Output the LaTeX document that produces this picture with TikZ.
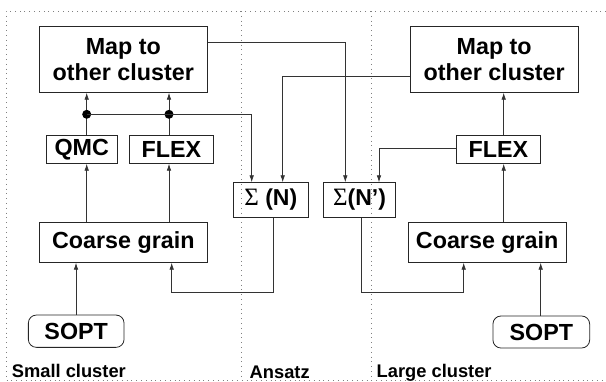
\documentclass[tikz,border=0pt]{standalone}
\usepackage{fontspec}
\setmainfont{Liberation Sans}
\newfontfamily\sigf{Liberation Serif}
\usetikzlibrary{arrows.meta}
\tikzset{
  box/.style={draw=black!85, line width=0.8pt, inner sep=0pt, align=center,
    font=\fontsize{23.3}{26.5}\selectfont\bfseries},
  sbox/.style={box, font=\fontsize{23}{23}\selectfont\bfseries},
  rbox/.style={box, rounded corners=8pt},
  conn/.style={draw=black!80, line width=0.8pt},
  arr/.style={conn, -{Latex[length=7pt,width=4.6pt]}},
  frame/.style={draw=black!50, line width=0.8pt, dash pattern=on 0.8pt off 4pt},
  lab/.style={anchor=base west, inner sep=0pt, font=\fontsize{18.3}{18}\selectfont\bfseries},
  jdot/.style={circle, fill=black, inner sep=0pt, minimum size=9pt}
}
\begin{document}
\begin{tikzpicture}[x=1pt,y=-1pt]
\useasboundingbox (0,0) rectangle (606,381);
% frame
\draw[frame] (606,11) -- (6,11) -- (6,380) -- (606,380);
\draw[frame] (241.7,11) -- (241.7,380);
\draw[frame] (371.3,11) -- (371.3,380);
% nodes
\node[box, minimum width=168pt, minimum height=65.6pt] (mapL) at (123.3,59.5) {Map to\\other cluster};
\node[box, minimum width=167.7pt, minimum height=65.6pt] (mapR) at (494.2,59.5) {Map to\\other cluster};
\node[box, minimum width=71.3pt, minimum height=27.6pt] (qmc) at (81.7,149.5) {QMC};
\node[box, minimum width=84pt, minimum height=27.6pt] (flexL) at (171.3,149.5) {FLEX};
\node[box, minimum width=84.4pt, minimum height=27.6pt] (flexR) at (498.5,149.5) {FLEX};
\node[sbox, minimum width=75pt, minimum height=34.6pt] (sigN) at (270.8,200) {{\sigf\fontsize{25}{25}\selectfont\mdseries Σ} (N)};
\node[sbox, minimum width=72.4pt, minimum height=34.6pt] (sigNp) at (359.5,200) {{\sigf\fontsize{25}{25}\selectfont\mdseries Σ}(N')};
\node[box, minimum width=168pt, minimum height=40pt] (cgL) at (123.3,242.3) {Coarse grain};
\node[box, minimum width=158.3pt, minimum height=40pt] (cgR) at (487.2,242.3) {Coarse grain};
\node[rbox, minimum width=95.7pt, minimum height=32.3pt] (soptL) at (76.2,331.2) {SOPT};
\node[rbox, minimum width=96.7pt, minimum height=32pt] (soptR) at (541.3,332) {SOPT};
% labels
\node[lab] (l1) at (11.7,377) {Small cluster};
\node[lab] (l2) at (249.5,378.3) {Ansatz};
\node[lab] (l3) at (376.5,377) {Large cluster};
% coordinates
\coordinate (d1) at (86.7,114.3);
\coordinate (d2) at (169,114.3);
\coordinate (t1) at (251.7,114.3);
\coordinate (t2) at (345.3,42.3);
\coordinate (t3) at (282.7,76.7);
\coordinate (t4) at (379,148);
\coordinate (b1) at (273.5,292.3);
\coordinate (b2) at (171.7,292.3);
\coordinate (b3) at (361.5,292.3);
\coordinate (b4) at (463.7,292.3);
\coordinate (xs) at (76,0);
\coordinate (xsr) at (540.7,0);
\coordinate (xr) at (503.7,0);
% left column
\draw[arr] (soptL.north -| xs) -- (cgL.south -| xs);
\draw[arr] (cgL.north -| d1) -- (qmc.south -| d1);
\draw[arr] (cgL.north -| d2) -- (flexL.south -| d2);
\draw[conn] (qmc.north -| d1) -- (d1);
\draw[conn] (flexL.north -| d2) -- (d2);
\draw[arr] (d1) -- (mapL.south -| d1);
\draw[arr] (d2) -- (mapL.south -| d2);
\node[jdot] (jd1) at (d1) {};
\node[jdot] (jd2) at (d2) {};
\draw[arr] (d1) -- (t1) -- (sigN.north -| t1);
% cross connections
\draw[arr] (mapL.east |- t2) -- (t2) -- (sigNp.north -| t2);
\draw[arr] (mapR.west |- t3) -- (t3) -- (sigN.north -| t3);
\draw[arr] (flexR.west |- t4) -- (t4) -- (sigNp.north -| t4);
\draw[arr] (sigN.south -| b1) -- (b1) -- (b2) -- (cgL.south -| b2);
\draw[arr] (sigNp.south -| b3) -- (b3) -- (b4) -- (cgR.south -| b4);
% right column
\draw[arr] (soptR.north -| xsr) -- (cgR.south -| xsr);
\draw[arr] (cgR.north -| xr) -- (flexR.south -| xr);
\draw[arr] (flexR.north -| xr) -- (mapR.south -| xr);
\end{tikzpicture}
\end{document}
